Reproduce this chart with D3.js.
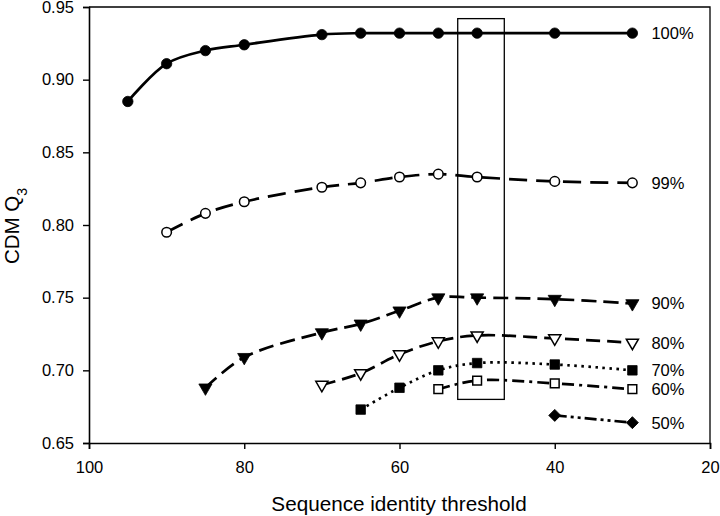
<!DOCTYPE html>
<html>
<head>
<meta charset="utf-8">
<script src="https://cdn.jsdelivr.net/npm/d3@7"></script>
<style>
  html, body { margin: 0; padding: 0; background: #fff; }
  svg { display: block; font-family: "Liberation Sans", Arial, sans-serif; }
</style>
</head>
<body>
<svg id="chart" width="720" height="516"></svg>
<script>
// ---- data ----
const seriesNames = ["100%", "99%", "90%", "80%", "70%", "60%", "50%"];
const x100 = [95, 90, 85, 80, 70, 65, 60, 55, 50, 40, 30];
const y100 = [0.885, 0.911, 0.920, 0.924, 0.931, 0.932, 0.932, 0.932, 0.932, 0.932, 0.932];
const x99 = [90, 85, 80, 70, 65, 60, 55, 50, 40, 30];
const y99 = [0.795, 0.808, 0.816, 0.826, 0.829, 0.833, 0.835, 0.833, 0.830, 0.829];
const x90 = [85, 80, 70, 65, 60, 55, 50, 40, 30];
const y90 = [0.688, 0.709, 0.726, 0.732, 0.741, 0.750, 0.750, 0.749, 0.746];
const x80 = [70, 65, 60, 55, 50, 40, 30];
const y80 = [0.690, 0.698, 0.711, 0.720, 0.724, 0.722, 0.719];
const x70 = [65, 60, 55, 50, 40, 30];
const y70 = [0.673, 0.688, 0.700, 0.705, 0.704, 0.700];
const x60 = [55, 50, 40, 30];
const y60 = [0.687, 0.693, 0.691, 0.687];
const x50 = [40, 30];
const y50 = [0.669, 0.664];
const xTicks = [100, 80, 60, 40, 20];
const yTicks = [0.65, 0.70, 0.75, 0.80, 0.85, 0.90, 0.95];
const boxX = [52.5, 46.5];
const boxY = [0.680, 0.942];
const xTitle = "Sequence identity threshold";

// ---- styles ----
const styles = {
  "100%": { dash: null,            shape: "circle",   fill: true },
  "99%":  { dash: "18,9",          shape: "circle",   fill: false },
  "90%":  { dash: "15,7",          shape: "triangle", fill: true },
  "80%":  { dash: "14,7",          shape: "triangle", fill: false },
  "70%":  { dash: "2.5,4.5",       shape: "square",   fill: true },
  "60%":  { dash: "12,5,3,5",      shape: "square",   fill: false },
  "50%":  { dash: "12,4,3,4,3,4",  shape: "diamond",  fill: true }
};
const xs = [x100, x99, x90, x80, x70, x60, x50];
const ys = [y100, y99, y90, y80, y70, y60, y50];
const series = seriesNames.map((n, i) => ({
  name: n,
  pts: xs[i].map((x, j) => ({ x: x, y: ys[i][j] }))
}));

const svg = d3.select("#chart");
const L = 89, R = 710, T = 7, B = 443;
const x = d3.scaleLinear().domain([100, 20]).range([L, R]);
const y = d3.scaleLinear().domain([0.65, 0.95]).range([B, T]);

// frame (top and right)
svg.append("path")
  .attr("d", `M${L},${T}H${R}V${B}`)
  .attr("fill", "none").attr("stroke", "#000").attr("stroke-width", 1.3);

// axes
const xAxis = svg.append("g").attr("transform", `translate(0,${B})`)
  .call(d3.axisBottom(x).tickValues(xTicks).tickSizeOuter(0).tickSize(6).tickPadding(12).tickFormat(d3.format("d")));
const yAxis = svg.append("g").attr("transform", `translate(${L},0)`)
  .call(d3.axisLeft(y).tickValues(yTicks).tickSizeOuter(0).tickSize(6).tickPadding(9).tickFormat(d3.format(".2f")));
[xAxis, yAxis].forEach(g => {
  g.selectAll("path.domain").attr("stroke", "#000").attr("stroke-width", 1.6);
  g.selectAll(".tick line").attr("stroke", "#000").attr("stroke-width", 1.4);
  g.selectAll(".tick text").attr("fill", "#000").style("font-size", "16.5px")
    .style("font-family", '"Liberation Sans", Arial, sans-serif');
});

// highlight box
svg.append("rect")
  .attr("x", x(boxX[0])).attr("y", y(boxY[1]))
  .attr("width", x(boxX[1]) - x(boxX[0]))
  .attr("height", y(boxY[0]) - y(boxY[1]))
  .attr("fill", "none").attr("stroke", "#000").attr("stroke-width", 1.3);

// lines
const line = d3.line().x(d => x(d.x)).y(d => y(d.y)).curve(d3.curveCatmullRom.alpha(0.5));
series.forEach(s => {
  const st = styles[s.name];
  svg.append("path")
    .attr("d", line(s.pts))
    .attr("fill", "none").attr("stroke", "#000")
    .attr("stroke-width", 2.7)
    .attr("stroke-dasharray", st.dash)
    .attr("stroke-linecap", "butt");
});

// markers
const sym = {
  circle: d3.symbolCircle,
  triangle: d3.symbolTriangle,
  square: d3.symbolSquare,
  diamond: d3.symbolSquare
};
const size = { circle: 85, triangle: 75, square: 90, diamond: 72 };
series.forEach(s => {
  const st = styles[s.name];
  svg.append("g").selectAll("path").data(s.pts).join("path")
    .attr("d", d3.symbol().type(sym[st.shape]).size(st.fill ? size[st.shape] : size[st.shape] * 0.85))
    .attr("transform", d => {
      let t = `translate(${x(d.x)},${y(d.y)})`;
      if (st.shape === "triangle") t += " rotate(180)";
      if (st.shape === "diamond") t += " rotate(45)";
      return t;
    })
    .attr("fill", st.fill ? "#000" : "#fff")
    .attr("stroke", "#000")
    .attr("stroke-width", st.fill ? 0.8 : 1.5);
});

// series labels
series.forEach(s => {
  const last = s.pts[s.pts.length - 1];
  svg.append("text")
    .attr("x", x(last.x) + 19).attr("y", y(last.y))
    .attr("dominant-baseline", "central")
    .style("font-size", "16.5px").attr("fill", "#000")
    .text(s.name);
});

// axis titles
svg.append("text")
  .attr("x", 399).attr("y", 511)
  .attr("text-anchor", "middle")
  .style("font-size", "20.7px").attr("fill", "#000")
  .text(xTitle);

const yt = svg.append("text")
  .attr("transform", `translate(19,226) rotate(-90)`)
  .attr("text-anchor", "middle")
  .style("font-size", "20.5px").attr("fill", "#000");
yt.append("tspan").text("CDM Q");
yt.append("tspan").attr("baseline-shift", "sub").style("font-size", "14px").text("3");
</script>
</body>
</html>
